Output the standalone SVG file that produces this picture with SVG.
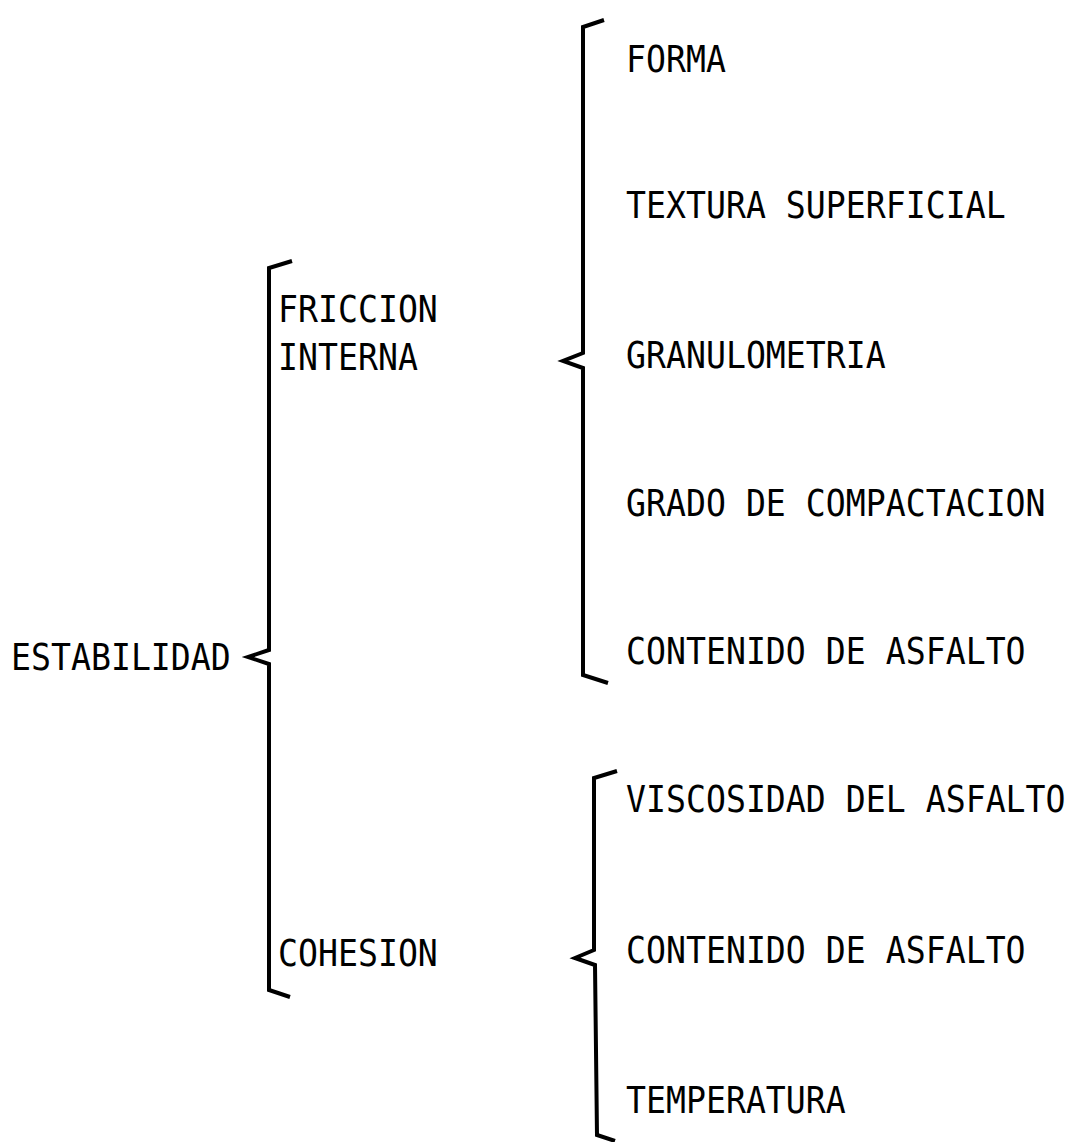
<svg xmlns="http://www.w3.org/2000/svg" width="1072" height="1142" viewBox="0 0 1072 1142">
<style>
text{font-family:"DejaVu Sans Mono","Liberation Mono",monospace;font-size:33.2px;fill:#000}
.brace{fill:none;stroke:#000;stroke-width:4;stroke-linejoin:miter;stroke-linecap:butt}
</style>
<rect width="1072" height="1142" fill="#fff"/>
<g id="connectors">
<path class="brace" d="M292,261 L269,268 L269,650 L248,657 L269,664 L269,990 L290,997"/>
<path class="brace" d="M604,20 L583,27 L583,353 L563,361 L583,368 L583,675 L608,683"/>
<path class="brace" d="M617,771 L594,778 L594,950 L575,958 L595,965 L597,1135 L615,1141"/>
</g>
<g id="estabilidad"><text transform="translate(11,670) scale(1,1.12)">ESTABILIDAD</text></g>
<g id="friccion">
<text transform="translate(278,322) scale(1,1.12)">FRICCION</text>
<text transform="translate(278,370) scale(1,1.12)">INTERNA</text>
</g>
<g id="cohesion"><text transform="translate(278,966) scale(1,1.12)">COHESION</text></g>
<g id="forma"><text transform="translate(626,72) scale(1,1.12)">FORMA</text></g>
<g id="textura"><text transform="translate(626,218) scale(1,1.12)">TEXTURA SUPERFICIAL</text></g>
<g id="granulometria"><text transform="translate(626,368) scale(1,1.12)">GRANULOMETRIA</text></g>
<g id="grado"><text transform="translate(626,516) scale(1,1.12)">GRADO DE COMPACTACION</text></g>
<g id="contenido1"><text transform="translate(626,664) scale(1,1.12)">CONTENIDO DE ASFALTO</text></g>
<g id="viscosidad"><text transform="translate(626,812) scale(1,1.12)">VISCOSIDAD DEL ASFALTO</text></g>
<g id="contenido2"><text transform="translate(626,963) scale(1,1.12)">CONTENIDO DE ASFALTO</text></g>
<g id="temperatura"><text transform="translate(626,1113) scale(1,1.12)">TEMPERATURA</text></g>
</svg>
